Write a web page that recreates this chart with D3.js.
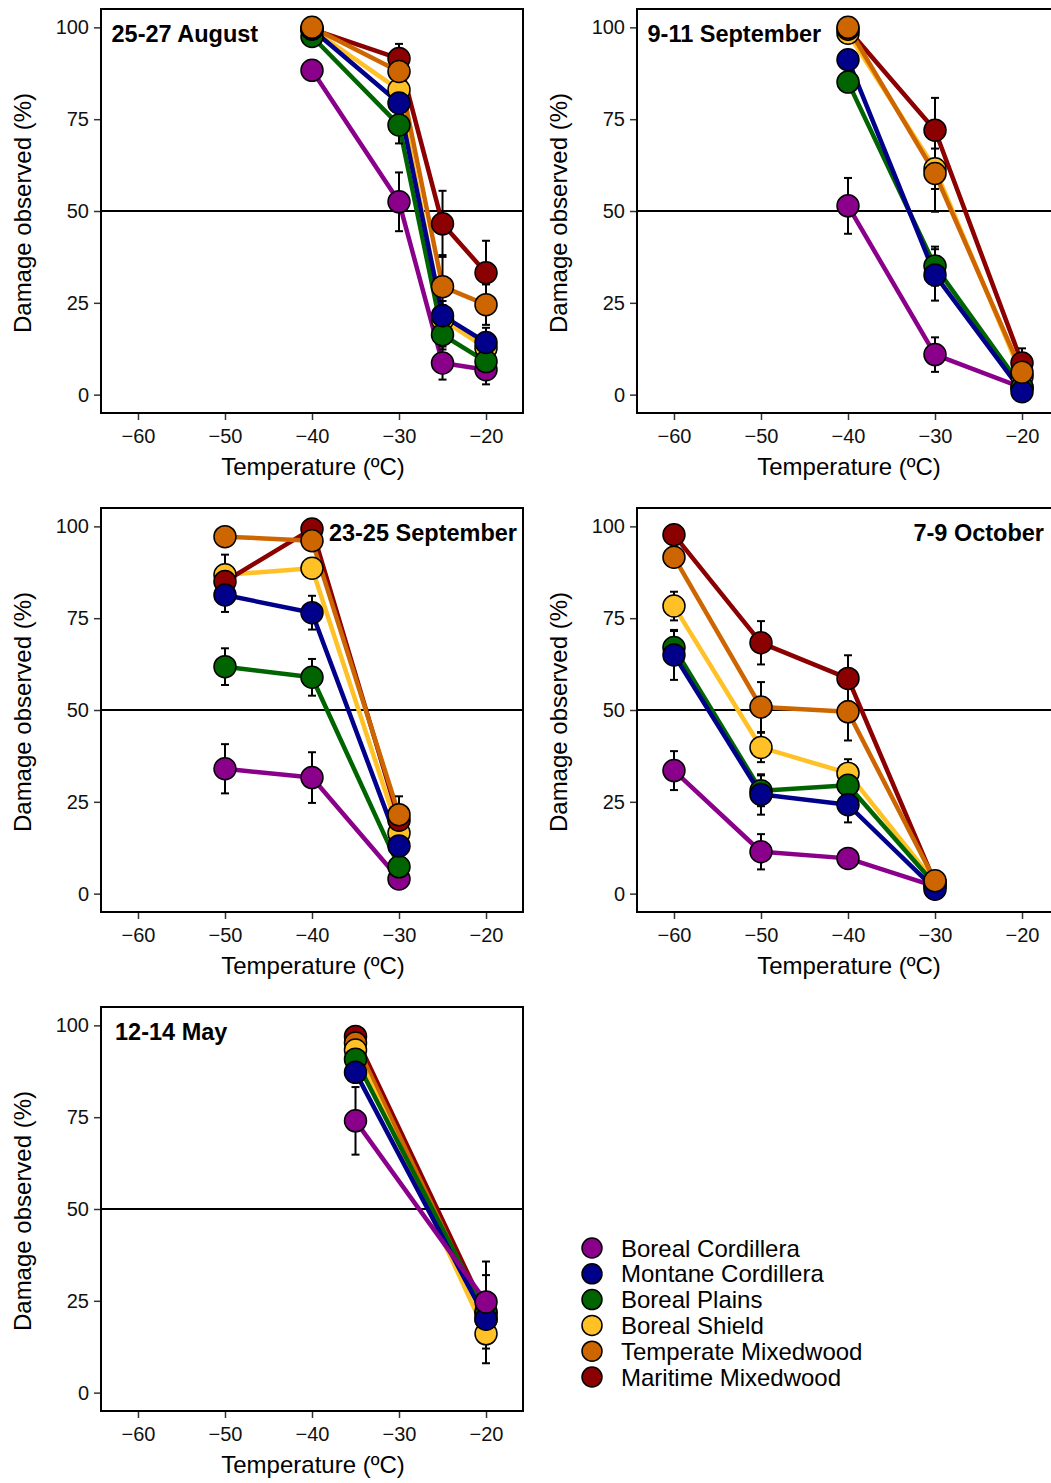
<!DOCTYPE html>
<html><head><meta charset="utf-8">
<script src="https://cdn.jsdelivr.net/npm/d3@7"></script>
<style>
body{margin:0;background:#fff;}
svg{display:block;font-family:"Liberation Sans",Arial,sans-serif;}
</style></head>
<body><svg id="c" width="1051" height="1483"></svg>
<script>
// ---- data ----
const regions = ["Boreal Cordillera","Montane Cordillera","Boreal Plains","Boreal Shield","Temperate Mixedwood","Maritime Mixedwood"];
const panelTitles = ["25-27 August","9-11 September","23-25 September","7-9 October","12-14 May"];
const xTicks = [-60,-50,-40,-30,-20];
const yTicks = [0,25,50,75,100];
const threshold = 50;

const tempsAug = [-40,-30,-25,-20];
const valAug = [[88.3,52.5,8.6,6.8],[99.5,79.4,21.5,14.2],[97.5,73.4,16.3,9],[99.5,83,20.4,12.7],[100,88,29.4,24.5],[99.5,91.5,46.5,33.2]];
const errAug = [[1,8,4.5,4],[1,4,4,4],[1,5,4,3],[1,4,4,3],[0.5,4,8.6,5.5],[1,4,9,8.7]];

const tempsSep1 = [-40,-30,-20];
const valSep1 = [[51.4,10.9,1.9],[91.2,32.6,0.8],[85.1,35,2],[98.4,61.5,5],[100,60.2,6.1],[99.5,72,8.6]];
const errSep1 = [[7.6,4.7,1],[2,7,1],[2,5.3,1],[1,5.5,2],[1,10.4,2],[1,8.8,4]];

const tempsSep2 = [-50,-40,-30];
const valSep2 = [[34,31.6,4],[81.3,76.5,13],[61.8,58.9,7.3],[86.8,88.6,16.5],[97.2,96.1,21.5],[85,99.3,20]];
const errSep2 = [[6.7,6.9,1],[4.6,4.6,2],[5,5,2],[5.5,2,3],[1,1,5],[2,1,4]];

const tempsOct = [-60,-50,-40,-30];
const valOct = [[33.5,11.4,9.6,2],[65,27,24.2,1.2],[67,28,29.5,2.5],[78.3,39.8,32.8,3],[91.6,50.8,49.5,3.5],[97.7,68.3,58.6,3]];
const errOct = [[5.3,4.8,1,0.5],[6.8,5.5,4.8,0.5],[4.5,4.2,2,0.5],[3.9,4,3.8,0.5],[2,6.8,7.8,0.5],[2,5.9,6.3,0.5]];

const tempsMay = [-35,-20];
const valMay = [[74,24.7],[87.2,20],[90.8,21.5],[93.3,16],[95.2,20],[97,22]];
const errMay = [[9.2,11],[2,12],[2,3],[2,4],[2,3],[1,3]];

// ---- styles / layout ----
const colors = ["#8B008B","#00008B","#006400","#FFC125","#CD6600","#8B0000"];
const orderA = [0,3,5,2,1,4];
const orderB = [5,4,3,2,1,0];
const panels = [
  {t:tempsAug, v:valAug, e:errAug, x:101, y:9,   lx:10.5, anchor:"start", ord:orderA},
  {t:tempsSep1,v:valSep1,e:errSep1,x:637, y:9,   lx:10.5, anchor:"start", ord:orderA},
  {t:tempsSep2,v:valSep2,e:errSep2,x:101, y:508, lx:416,  anchor:"end",   ord:orderA},
  {t:tempsOct, v:valOct, e:errOct, x:637, y:508, lx:407,  anchor:"end",   ord:orderA},
  {t:tempsMay, v:valMay, e:errMay, x:101, y:1007,lx:14,   anchor:"start", ord:orderB}
];
const W = 422, H = 404;
const svg = d3.select("#c");
const xs = d3.scaleLinear().domain([-64.25,-15.75]).range([0,W]);
const ys = d3.scaleLinear().domain([-5,105]).range([H,0]);

panels.forEach((p,pi)=>{
  const g = svg.append("g").attr("transform",`translate(${p.x},${p.y})`);
  const xa = g.append("g").attr("transform",`translate(0,${H})`)
    .call(d3.axisBottom(xs).tickValues(xTicks).tickSize(7).tickPadding(9).tickSizeOuter(0));
  const ya = g.append("g")
    .call(d3.axisLeft(ys).tickValues(yTicks).tickSize(7).tickPadding(5).tickSizeOuter(0));
  [xa,ya].forEach(a=>{
    a.select(".domain").remove();
    a.selectAll(".tick line").attr("stroke","#333").attr("stroke-width",1.5);
    a.selectAll(".tick text").attr("fill","#111").style("font-size","20px");
  });
  g.append("line").attr("x1",0).attr("x2",W).attr("y1",ys(threshold)).attr("y2",ys(threshold))
    .attr("stroke","#000").attr("stroke-width",2);
  const line = d3.line().x((d,i)=>xs(p.t[i])).y(d=>ys(d));
  p.ord.forEach(s=>{
    g.append("path").datum(p.v[s]).attr("d",line).attr("fill","none")
      .attr("stroke",colors[s]).attr("stroke-width",4.5).attr("stroke-linejoin","round");
  });
  p.ord.forEach(s=>{
    p.v[s].forEach((v,i)=>{
      const e = p.e[s][i], cx = xs(p.t[i]);
      g.append("line").attr("x1",cx).attr("x2",cx).attr("y1",ys(v-e)).attr("y2",ys(v+e)).attr("stroke","#000").attr("stroke-width",2);
      [v-e,v+e].forEach(yy=>g.append("line").attr("x1",cx-4).attr("x2",cx+4).attr("y1",ys(yy)).attr("y2",ys(yy)).attr("stroke","#000").attr("stroke-width",2));
    });
  });
  p.ord.forEach(s=>{
    g.selectAll(null).data(p.v[s]).enter().append("circle")
      .attr("cx",(d,i)=>xs(p.t[i])).attr("cy",d=>ys(d)).attr("r",11)
      .attr("fill",colors[s]).attr("stroke","#000").attr("stroke-width",1.5);
  });
  g.append("rect").attr("x",0).attr("y",0).attr("width",W).attr("height",H)
    .attr("fill","none").attr("stroke","#000").attr("stroke-width",2);
  g.append("text").attr("x",p.lx).attr("y",33).attr("text-anchor",p.anchor)
    .style("font-size","23.5px").style("font-weight","bold").attr("fill","#000").text(panelTitles[pi]);
  g.append("text").attr("x",W/2+1).attr("y",H+62).attr("text-anchor","middle")
    .style("font-size","24px").attr("fill","#000").text("Temperature (ºC)");
  g.append("text").attr("transform",`translate(-70,${H/2+2}) rotate(-90)`).attr("text-anchor","middle")
    .style("font-size","24px").attr("fill","#000").text("Damage observed (%)");
});

const lg = svg.append("g").attr("transform","translate(592,1248)");
regions.forEach((r,i)=>{
  lg.append("circle").attr("cx",0).attr("cy",i*25.8).attr("r",10).attr("fill",colors[i]).attr("stroke","#000").attr("stroke-width",1.5);
  lg.append("text").attr("x",29).attr("y",i*25.8).attr("dy","0.36em").style("font-size","24px").attr("fill","#000").text(r);
});
</script></body></html>
